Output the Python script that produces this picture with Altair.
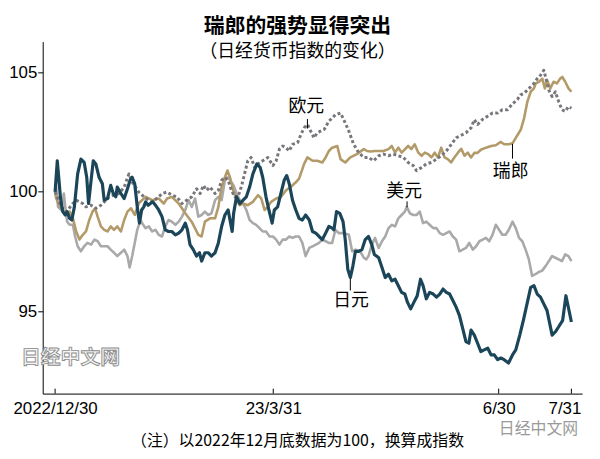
import altair as alt
import pandas as pd

# ---------------- data (x = Japanese business-day index from 2022/12/30) ----------------
tick_vals = [0, 60, 122, 142]
tick_labels = ["2022/12/30", "23/3/31", "6/30", "7/31"]
y_ticks = [95, 100, 105]

yen_x = [0, 0.6, 1.5, 2.1, 2.8, 3.3, 4.0, 4.6, 5.3, 6.2, 7.1, 8.0, 8.7, 9.2, 9.9, 10.5, 11.2, 12.1, 13.0, 13.5,
         14.4, 15.3, 16.0, 16.7, 17.1, 18.1, 19.0, 19.9, 20.6, 21.2, 21.9, 22.6, 23.2, 23.8, 24.4, 24.9, 25.6,
         26.2, 26.9, 27.6, 28.5, 29.4, 30.3, 31.2, 32.1, 33.1, 34.0, 34.9, 35.8, 36.4, 37.1, 38.0, 38.9, 39.7,
         40.3, 41.2, 42.1, 43.0, 44.0, 44.9, 45.8, 46.7, 47.6, 48.1, 48.7, 49.1, 49.9, 50.8, 51.7, 52.6, 53.5,
         54.4, 55.5, 56.4, 57.1, 58.0, 58.8, 59.7, 60.3, 61.2, 62.1, 63.0, 63.7, 64.4, 65.3, 66.2, 67.1, 68.0,
         68.9, 69.9, 70.8, 71.7, 72.6, 73.5, 74.4, 75.3, 76.2, 76.7, 77.4, 78.3, 79.2, 79.8, 80.5, 81.2, 81.9,
         82.6, 83.5, 84.4, 85.3, 86.2, 87.1, 87.8, 89.0, 89.9, 90.8, 91.7, 92.6, 93.5, 94.4, 95.3, 96.2, 96.9,
         97.8, 98.7, 99.6, 100.5, 101.2, 102.1, 103.0, 104.0, 104.9, 105.8, 106.7, 107.6, 108.5, 109.4, 110.3,
         111.2, 112.1, 113.0, 113.8, 114.4, 115.3, 116.2, 117.1, 118.0, 119.0, 119.9, 120.8, 121.7, 122.6,
         123.5, 124.7, 125.8, 126.7, 127.8, 128.9, 129.9, 130.8, 131.7, 132.6, 133.5, 134.4, 135.3, 136.7,
         137.6, 138.5, 139.6, 140.5, 142.0]
yen_y = [100.0, 101.3, 99.72, 99.17, 99.03, 99.17, 98.89, 98.82, 99.37, 100.75, 101.37, 101.23, 100.61, 99.51,
         100.48, 101.3, 101.17, 100.61, 100.34, 99.65, 99.72, 100.27, 99.93, 99.79, 100.2, 99.93, 99.72, 100.13,
         100.48, 100.61, 100.34, 99.37, 98.69, 99.24, 99.37, 99.58, 99.44, 99.51, 99.58, 99.44, 99.24, 98.96,
         98.41, 98.34, 98.34, 98.2, 98.27, 98.41, 98.69, 98.41, 97.79, 97.58, 97.31, 97.45, 97.1, 97.45, 97.45,
         97.31, 97.45, 97.86, 98.55, 99.03, 99.24, 98.82, 98.34, 99.1, 99.79, 99.51, 99.65, 99.79, 100.2, 100.75,
         101.17, 101.02, 100.61, 99.79, 99.24, 98.69, 99.24, 99.37, 99.93, 100.48, 100.68, 100.34, 99.65, 99.24,
         98.89, 98.82, 99.03, 98.82, 98.34, 98.27, 98.13, 98.0, 98.27, 98.55, 98.48, 98.41, 99.17, 99.1, 98.75,
         98.0, 96.76, 96.41, 96.89, 97.51, 97.51, 97.58, 98.0, 98.13, 97.79, 97.38, 97.24, 96.83, 96.41, 96.55,
         96.27, 96.34, 96.07, 95.79, 95.72, 95.38, 95.1, 95.38, 95.65, 96.34, 96.07, 95.52, 95.79, 95.72, 95.59,
         95.72, 95.93, 95.79, 95.72, 95.45, 95.17, 94.83, 94.28, 93.73, 93.66, 94.21, 94.0, 93.66, 93.31, 93.38,
         93.45, 93.17, 93.17, 92.97, 93.04, 92.97, 92.83, 93.17, 93.38, 94.0, 94.69, 95.38, 96.0, 96.07, 95.72,
         95.59, 95.31, 95.03, 94.0, 94.14, 94.35, 94.62, 95.65, 94.55]

usd_x = [0, 0.3, 0.8, 1.7, 2.4, 2.8, 3.3, 4.0, 4.9, 5.5, 6.2, 7.1, 8.0, 8.9, 9.9, 10.8, 11.7, 12.6, 13.5, 14.4,
         15.3, 16.2, 17.1, 18.1, 19.0, 19.9, 20.5, 21.2, 21.9, 22.6, 23.5, 24.2, 24.9, 25.8, 26.7, 27.6, 28.5,
         29.4, 30.3, 31.2, 32.1, 33.1, 34.0, 34.9, 35.8, 36.7, 37.6, 38.5, 39.4, 40.3, 41.2, 42.1, 43.0, 44.0,
         44.9, 45.8, 46.7, 47.6, 48.5, 49.1, 49.9, 50.8, 51.7, 52.6, 53.5, 54.4, 55.3, 56.2, 57.1, 58.0, 59.0,
         59.9, 60.8, 61.7, 62.6, 63.5, 64.4, 65.3, 66.2, 67.1, 68.0, 68.9, 69.9, 70.8, 71.7, 72.6, 73.5, 74.4,
         75.3, 76.2, 77.1, 78.0, 79.4, 80.8, 81.7, 82.6, 83.9, 84.9, 85.6, 86.2, 87.1, 88.0, 89.0, 89.9, 90.8,
         91.7, 92.6, 93.5, 94.4, 95.3, 96.2, 96.7, 97.6, 98.5, 99.4, 100.3, 101.2, 102.1, 103.0, 104.0, 104.9,
         105.8, 106.7, 107.6, 108.5, 109.4, 110.3, 111.2, 112.1, 113.0, 113.9, 114.9, 115.8, 116.7, 117.6, 118.5,
         119.4, 120.3, 121.2, 122.1, 123.0, 123.9, 124.8, 125.8, 126.7, 127.6, 128.5, 129.4, 130.3, 131.2, 132.1,
         133.0, 133.9, 134.9, 135.8, 136.7, 137.6, 138.5, 139.4, 140.3, 141.2, 142.0]
usd_y = [100.0, 100.2, 99.37, 99.24, 99.93, 99.37, 98.75, 98.62, 98.62, 98.13, 97.72, 97.51, 97.72, 97.86, 97.79,
         98.0, 97.93, 97.72, 97.72, 97.72, 97.58, 97.45, 97.31, 97.45, 97.58, 97.31, 96.83, 97.31, 97.86, 98.41,
         98.82, 98.62, 98.48, 98.55, 98.34, 98.41, 98.2, 98.13, 98.55, 98.82, 98.75, 98.62, 98.75, 98.96, 99.24,
         99.65, 99.37, 99.72, 98.96, 99.03, 99.17, 99.03, 99.1, 99.65, 99.79, 99.65, 100.48, 100.61, 100.4,
         100.27, 99.93, 99.65, 99.51, 99.24, 98.82, 98.69, 98.62, 98.48, 98.34, 98.34, 98.13, 98.13, 98.0, 97.79,
         98.0, 98.0, 98.13, 98.07, 98.13, 98.13, 97.86, 97.31, 97.65, 97.72, 97.79, 97.86, 98.0, 97.93, 97.86,
         97.86, 98.41, 98.27, 98.27, 98.2, 97.51, 97.58, 97.51, 97.24, 97.17, 97.31, 97.79, 98.07, 97.65, 97.93,
         98.13, 98.48, 98.62, 98.55, 98.89, 99.03, 99.17, 99.37, 99.1, 99.03, 99.03, 99.17, 98.69, 98.75, 98.62,
         98.48, 98.48, 98.27, 98.2, 98.27, 98.34, 98.13, 98.0, 97.51, 97.58, 97.65, 97.86, 97.58, 97.72, 97.93,
         98.0, 98.07, 97.93, 98.2, 98.62, 98.41, 98.2, 98.2, 98.41, 98.75, 98.48, 98.07, 97.93, 97.58, 97.17,
         96.48, 96.55, 96.64, 96.69, 96.89, 97.1, 97.31, 97.24, 97.17, 97.1, 97.38, 97.31, 97.1]

chf_x = [0, 0.3, 1.2, 2.1, 3.1, 4.0, 4.9, 5.8, 6.7, 7.6, 8.5, 9.4, 10.3, 11.0, 11.7, 12.6, 13.5, 14.4, 15.3,
         16.2, 17.1, 18.1, 19.0, 19.9, 20.9, 21.9, 23.0, 24.9, 26.7, 28.5, 29.9, 30.8, 32.1, 34.0, 35.8, 37.6,
         39.4, 40.3, 41.2, 42.6, 44.0, 44.9, 45.8, 46.7, 47.4, 48.1, 49.0, 49.9, 50.8, 51.7, 53.0, 54.4, 55.8,
         56.7, 57.6, 58.5, 59.4, 60.8, 62.1, 63.5, 64.8, 66.2, 67.1, 68.5, 69.4, 70.8, 72.1, 73.5, 74.4, 75.3,
         76.2, 77.6, 78.5, 79.8, 81.2, 83.0, 84.9, 85.8, 86.7, 88.0, 90.3, 91.7, 92.6, 93.5, 94.4, 95.3, 97.1,
         98.0, 98.9, 99.9, 100.8, 101.7, 102.6, 103.5, 104.4, 105.3, 106.2, 107.1, 108.0, 108.9, 109.8, 110.8,
         111.7, 112.6, 113.5, 114.4, 115.3, 116.2, 117.1, 118.5, 119.9, 121.2, 122.6, 123.5, 124.8, 125.8, 126.7,
         128.1, 129.0, 129.9, 130.8, 131.7, 132.2, 133.1, 134.0, 134.7, 135.3, 136.2, 137.1, 138.0, 138.9, 139.5,
         140.3, 141.2, 142.0]
chf_y = [100.0, 99.72, 99.44, 99.24, 99.1, 99.17, 98.89, 98.34, 98.0, 98.2, 98.34, 98.82, 99.17, 99.31, 98.96,
         98.55, 98.41, 98.34, 98.55, 98.41, 98.55, 98.34, 98.82, 99.17, 99.31, 99.03, 99.52, 99.79, 99.65, 99.72,
         99.51, 99.72, 99.79, 99.51, 99.1, 98.74, 98.2, 98.13, 98.75, 98.89, 98.89, 99.37, 100.2, 100.61, 100.89,
         100.61, 100.06, 99.65, 99.44, 99.51, 99.44, 99.58, 99.86, 99.72, 99.24, 99.37, 99.58, 99.72, 99.79,
         100.06, 100.2, 100.4, 100.55, 101.17, 101.44, 101.3, 101.3, 101.23, 101.44, 101.71, 101.85, 101.92,
         101.37, 101.23, 101.44, 101.58, 101.79, 101.71, 101.69, 101.71, 101.71, 101.79, 101.92, 101.64, 101.85,
         101.64, 101.92, 101.79, 101.99, 101.64, 101.51, 101.64, 101.58, 101.44, 101.64, 101.44, 101.85, 101.44,
         101.37, 101.23, 101.44, 101.64, 101.8, 101.51, 101.64, 101.44, 101.63, 101.63, 101.76, 101.85, 101.92,
         101.95, 102.09, 101.99, 101.99, 102.03, 102.26, 102.61, 103.09, 103.78, 104.19, 104.33, 104.54, 104.61,
         104.74, 104.33, 104.68, 104.33, 104.61, 104.54, 104.74, 104.81, 104.61, 104.33, 104.19]

eur_x = [0, 1.7, 3.1, 4.9, 5.8, 6.7, 7.6, 8.5, 9.9, 11.2, 12.6, 13.5, 14.9, 16.2, 17.6, 19.0, 20.3, 21.2, 22.1,
         23.0, 24.9, 26.7, 28.5, 29.4, 30.8, 32.1, 33.5, 34.9, 36.2, 37.6, 38.9, 39.9, 40.8, 41.7, 42.6, 44.0,
         44.9, 45.8, 46.7, 47.6, 48.5, 49.4, 50.3, 51.2, 52.1, 53.0, 53.9, 54.9, 55.8, 57.1, 58.5, 59.9, 60.8,
         61.7, 62.6, 63.5, 64.4, 65.3, 66.7, 67.6, 68.5, 69.4, 70.3, 71.2, 72.1, 73.0, 74.0, 75.3, 76.2, 77.1,
         78.5, 79.4, 80.8, 82.1, 83.5, 84.9, 86.2, 87.6, 89.0, 90.3, 91.7, 93.0, 94.4, 95.8, 97.1, 98.5, 99.4,
         100.8, 102.1, 103.5, 104.9, 106.2, 107.6, 109.0, 110.3, 111.7, 113.0, 114.4, 115.3, 116.2, 117.6, 118.9,
         120.3, 121.7, 123.0, 124.4, 125.8, 127.2, 128.0, 128.9, 129.9, 130.8, 131.7, 132.6, 133.5, 134.4, 134.9,
         135.8, 136.7, 137.6, 138.5, 139.4, 140.3, 141.2, 142.0]
eur_y = [100.0, 99.37, 99.17, 99.51, 99.65, 99.58, 99.51, 99.37, 99.44, 99.31, 99.44, 99.58, 99.79, 99.86, 99.93,
         100.2, 100.75, 100.4, 100.2, 99.99, 99.73, 99.58, 99.79, 99.93, 99.99, 99.86, 99.79, 99.51, 99.65, 99.79,
         100.13, 99.93, 100.27, 100.06, 100.2, 99.93, 100.06, 100.48, 100.61, 100.48, 100.06, 99.79, 99.79,
         100.2, 100.75, 101.3, 101.44, 101.02, 101.17, 101.3, 101.44, 101.1, 101.3, 101.79, 101.92, 101.85,
         101.71, 101.99, 102.06, 102.4, 102.68, 102.82, 102.54, 102.26, 102.47, 102.54, 102.61, 102.96, 103.09,
         103.23, 103.3, 103.02, 102.54, 101.99, 101.64, 101.44, 101.44, 101.3, 101.51, 101.58, 101.51, 101.58,
         101.51, 101.44, 101.23, 101.1, 100.89, 101.02, 101.17, 101.23, 101.37, 101.51, 101.71, 101.99, 102.26,
         102.37, 102.47, 102.68, 103.02, 102.82, 103.04, 103.16, 103.3, 103.3, 103.44, 103.44, 103.68, 103.88,
         104.06, 104.12, 104.26, 104.4, 104.54, 104.74, 104.88, 105.09, 104.81, 104.26, 103.99, 104.19, 103.78,
         103.44, 103.37, 103.57, 103.5]

ann_text = ["欧元", "美元", "日元", "瑞郎"]
ann_x = [69.1, 96.0, 81.4, 125.3]
ann_y = [103.55, 100.0, 95.41, 100.81]
lead_x = [69.4, 96.8, 81.2, 125.8]
lead_y1 = [103.05, 99.6, 96.36, 102.01]
lead_y2 = [102.65, 99.35, 95.87, 101.39]

title = "瑞郎的强势显得突出"
subtitle = "（日经货币指数的变化）"
footnote = "（注）以2022年12月底数据为100，换算成指数"
watermark = "日经中文网"

# ---------------- build ----------------
W, H = 544, 355
CJK = "Noto Sans CJK SC"
NUM = "Liberation Sans"

rows = []
for name, xs, ys in [("美元", usd_x, usd_y), ("瑞郎", chf_x, chf_y), ("欧元", eur_x, eur_y), ("日元", yen_x, yen_y)]:
    for a, b in zip(xs, ys):
        rows.append({"series": name, "x": a, "v": b})
df = pd.DataFrame(rows)

label_expr = " : ".join(
    [f"datum.value == {v} ? '{l}'" for v, l in zip(tick_vals[:-1], tick_labels[:-1])]
) + f" : '{tick_labels[-1]}'"

xscale = alt.Scale(domain=[-3.41, 144.94], nice=False, zero=False)
yscale = alt.Scale(domain=[91.55, 106.29], nice=False, zero=False)

xaxis = alt.Axis(values=tick_vals, labelExpr=label_expr, ticks=False, grid=False,
                 domainColor="black", domainWidth=1, labelColor="black",
                 labelFont=NUM, labelFontSize=17, labelPadding=7,
                 labelOffset=alt.ExprRef(expr=f"datum.value == {tick_vals[-1]} ? -7 : 0"))
yaxis = alt.Axis(values=y_ticks, grid=False, domainColor="black", domainWidth=1,
                 tickColor="black", tickSize=5, labelPadding=1, labelColor="black",
                 labelFont=NUM, labelFontSize=17)

X = alt.X("x:Q", scale=xscale, axis=xaxis, title=None)
Y = alt.Y("v:Q", scale=yscale, axis=yaxis, title=None)


def line(name, color, width, dash=None):
    kw = dict(color=color, strokeWidth=width, strokeJoin="round", clip=True)
    if dash:
        kw["strokeDash"] = dash
    return alt.Chart(df[df.series == name]).mark_line(**kw).encode(x=X, y=Y)


usd = line("美元", "#a9a9a9", 2.6)
chf = line("瑞郎", "#b39a69", 2.6)
eur = line("欧元", "#76767c", 3, [3, 2.5])
yen = line("日元", "#1b4659", 3.2)

ann_df = pd.DataFrame({"t": ann_text, "x": ann_x, "v": ann_y})
labels = alt.Chart(ann_df).mark_text(font=CJK, fontSize=18, color="black").encode(x=X, y=Y, text="t:N")

lead_df = pd.DataFrame({"x": lead_x, "v": lead_y1, "v2": lead_y2})
leaders = alt.Chart(lead_df).mark_rule(color="black", strokeWidth=1).encode(x=X, y=Y, y2="v2:Q")

xt_df = pd.DataFrame({"x": tick_vals})
xticks = alt.Chart(xt_df).mark_rule(color="black", strokeWidth=1).encode(
    x=X, y=alt.value(H - 5), y2=alt.value(H))


def txt(s, x, y, size, weight="normal", color="black", **kw):
    return alt.Chart(pd.DataFrame({"t": [s]})).mark_text(
        font=CJK, fontSize=size, fontWeight=weight, color=color, baseline="middle", align="center", **kw
    ).encode(text="t:N", x=alt.value(x), y=alt.value(y))


t1 = txt(title, 257, -15, 21, "bold")
t2 = txt(subtitle, 257, 11, 18)
t3 = txt(footnote, 257, 403, 16)
wm1 = txt(watermark, 28, 319, 20, "bold", color="#f4f4f4", stroke="#8c8c8c", strokeWidth=0.9)
wm2 = txt(watermark, 500, 391, 16, color="#9a9a9a")

chart = alt.layer(usd, chf, eur, yen, leaders, labels, xticks, t1, t2, t3, wm1, wm2).properties(
    width=W, height=H,
    autosize=alt.AutoSizeParams(type="none"),
    padding={"left": 35, "top": 32, "right": 10, "bottom": 60},
    background="white",
).configure_view(stroke=None)

chart.save("out.html", embed_options={"renderer": "svg", "actions": False})
